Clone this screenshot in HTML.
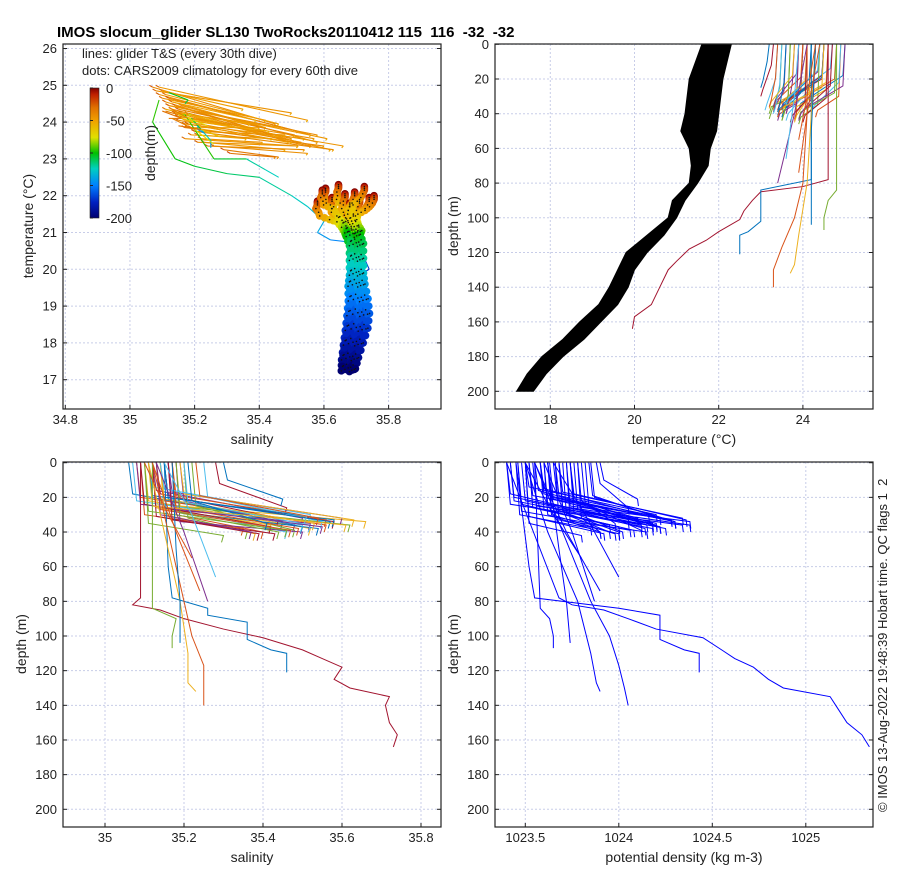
<!DOCTYPE html>
<html><head><meta charset="utf-8"><style>
html,body{margin:0;padding:0;background:#fff;}
svg{display:block;font-family:"Liberation Sans","DejaVu Sans",sans-serif;}
</style></head><body>
<svg id="fig" width="900" height="880" viewBox="0 0 900 880" xmlns="http://www.w3.org/2000/svg">
<defs>
<linearGradient id="jetgrad" x1="0" y1="0" x2="0" y2="1">
<stop offset="0" stop-color="#800000"/><stop offset="0.05" stop-color="#c02000"/><stop offset="0.15" stop-color="#e07000"/><stop offset="0.25" stop-color="#f0a000"/><stop offset="0.38" stop-color="#e0e000"/><stop offset="0.5" stop-color="#00c000"/><stop offset="0.62" stop-color="#00d0c0"/><stop offset="0.75" stop-color="#0080ff"/><stop offset="0.88" stop-color="#0020c0"/><stop offset="1" stop-color="#000070"/>
</linearGradient>
<clipPath id="cTS"><rect x="63" y="44" width="378" height="365"/></clipPath>
<clipPath id="cTR"><rect x="495" y="44" width="378" height="365"/></clipPath>
<clipPath id="cBL"><rect x="63" y="462" width="378" height="365"/></clipPath>
<clipPath id="cBR"><rect x="495" y="462" width="378" height="365"/></clipPath>
</defs>
<text x="57" y="37" font-size="15" font-weight="bold" style="white-space:pre" xml:space="preserve">IMOS slocum_glider SL130 TwoRocks20110412 115  116  -32  -32</text>
<text transform="translate(887,812) rotate(-90)" font-size="13" fill="#222" style="white-space:pre" xml:space="preserve">© IMOS 13-Aug-2022 19:48:39 Hobart time. QC flags 1  2</text>
</svg>
<script>
// ---- shallow glider dives (every 30th dive) ----
const shallowSurfSal=[35.06,35.08,35.10,35.12,35.13,35.14,35.15,35.16,35.17,35.18,35.19,35.20,35.11,35.13,35.15,35.17,35.14,35.16,35.22,35.25,35.28,35.30,35.09,35.12,35.18,35.10,
 35.07,35.09,35.11,35.13,35.14,35.16,35.18,35.20,35.12,35.15,35.17,35.19,35.08,35.10,35.14,35.16,35.21,35.23,35.11,35.13];
const shallowBotSal =[35.45,35.56,35.52,35.50,35.62,35.46,35.58,35.54,35.40,35.66,35.48,35.36,35.52,35.44,35.50,35.56,35.38,35.52,35.48,35.55,35.46,35.45,35.35,35.42,35.50,35.30,
 35.50,35.42,35.58,35.47,35.53,35.60,35.44,35.52,35.39,35.57,35.49,35.63,35.55,35.46,35.51,35.43,35.41,35.54,35.61,35.37];
const shallowSurfTemp=[25.0,24.8,24.6,24.4,24.3,24.2,24.5,24.0,23.9,24.1,23.8,23.7,24.7,24.5,24.3,24.0,24.2,23.6,23.5,23.4,23.3,23.2,24.9,24.6,23.9,24.4,
 24.9,24.7,24.5,24.3,24.1,23.9,23.7,23.5,24.6,24.2,24.0,23.8,25.0,24.8,24.4,24.1,23.6,23.4,24.5,24.3];
const shallowBotTemp =[23.9,23.6,23.4,23.5,23.2,23.6,23.4,23.5,23.8,23.3,23.6,23.5,23.7,23.6,23.4,23.3,23.8,23.3,23.2,23.1,23.0,23.0,24.3,23.8,23.4,23.9,
 24.2,24.0,23.6,23.8,23.4,23.3,23.5,23.3,24.0,23.5,23.4,23.2,24.0,23.9,23.6,23.7,23.4,23.2,23.5,23.9];
const shallowMixDepth=[18,20,22,16,24,26,20,28,30,25,22,32,14,18,21,19,30,27,25,20,12,10,30,26,34,35,
 22,24,19,27,21,17,29,23,31,20,26,18,24,28,15,33,22,19,25,30];
const shallowMaxDepth=[38,40,42,36,40,44,38,42,44,38,40,44,34,36,41,37,45,39,43,38,30,25,42,40,44,46,
 40,41,37,43,39,36,44,40,45,38,42,37,41,43,35,45,39,36,40,44];
const shallowSurfDens=[1023.40,1023.42,1023.48,1023.55,1023.60,1023.62,1023.65,1023.68,1023.70,1023.72,1023.74,1023.78,1023.50,1023.58,1023.63,1023.66,1023.62,1023.76,1023.82,1023.85,1023.88,1023.90,1023.45,1023.52,1023.72,1023.50,
 1023.42,1023.46,1023.52,1023.58,1023.62,1023.68,1023.74,1023.80,1023.50,1023.62,1023.68,1023.74,1023.40,1023.46,1023.58,1023.66,1023.78,1023.84,1023.54,1023.60];
const shallowBotDens =[1024.05,1024.20,1024.25,1024.10,1024.38,1024.00,1024.30,1024.18,1023.95,1024.38,1024.15,1023.90,1024.20,1024.05,1024.22,1024.28,1023.98,1024.18,1024.12,1024.30,1024.05,1024.10,1023.85,1023.95,1024.15,1023.80,
 1024.12,1024.00,1024.28,1024.08,1024.20,1024.34,1024.02,1024.18,1023.92,1024.30,1024.14,1024.36,1024.22,1024.06,1024.16,1024.00,1023.98,1024.22,1024.34,1023.90];
// ---- deeper glider dives ----
const deepDepth=[
 [0,78,82,85,90,96,101,108,113,118,125,130,135,140,150,157,164],
 [0,60,78,84,88,92,102,108,110,121],
 [0,40,80,100,117,130,140],
 [0,40,80,110,127,132],
 [0,84,90,100,107],
 [0,50,80,104],
 [0,30,55],
 [0,40,80],
 [0,30,66],
 [0,40,74]];
const deepSal=[
 [35.09,35.09,35.07,35.14,35.20,35.30,35.40,35.50,35.55,35.60,35.58,35.62,35.72,35.71,35.72,35.74,35.73],
 [35.15,35.16,35.17,35.26,35.26,35.36,35.36,35.42,35.46,35.46],
 [35.12,35.16,35.20,35.22,35.25,35.25,35.25],
 [35.11,35.15,35.19,35.21,35.21,35.23],
 [35.12,35.12,35.18,35.17,35.17],
 [35.17,35.18,35.19,35.19],
 [35.10,35.16,35.22],
 [35.13,35.20,35.26],
 [35.15,35.22,35.28],
 [35.12,35.18,35.24]];
const deepTemp=[
 [24.6,24.6,24.0,23.0,22.8,22.6,22.5,22.0,21.7,21.3,21.0,20.8,20.7,20.6,20.4,20.0,19.95],
 [24.2,24.2,24.2,23.0,23.0,23.0,23.0,22.7,22.5,22.5],
 [24.1,24.1,24.0,23.8,23.5,23.3,23.3],
 [24.3,24.2,24.1,23.9,23.8,23.7],
 [24.8,24.8,24.6,24.5,24.5],
 [24.3,24.2,24.2,24.2],
 [24.3,24.1,23.9],
 [24.1,23.8,23.4],
 [23.9,23.8,23.6],
 [24.4,24.1,23.9]];
const deepDens=[
 [1023.40,1023.68,1023.75,1023.92,1024.05,1024.20,1024.45,1024.55,1024.62,1024.72,1024.80,1024.88,1025.13,1025.16,1025.22,1025.30,1025.34],
 [1023.45,1023.52,1023.55,1024.00,1024.22,1024.22,1024.22,1024.35,1024.43,1024.43],
 [1023.55,1023.70,1023.85,1023.95,1024.00,1024.03,1024.05],
 [1023.50,1023.62,1023.78,1023.85,1023.88,1023.90],
 [1023.55,1023.58,1023.63,1023.65,1023.65],
 [1023.62,1023.68,1023.72,1023.74],
 [1023.50,1023.65,1023.80],
 [1023.60,1023.75,1023.87],
 [1023.65,1023.82,1024.00],
 [1023.55,1023.72,1023.90]];
const deepColorIdx=[6,0,1,2,4,0,1,3,5,1];
// ---- CARS2009 climatology ----
const climDepth=[0,10,20,30,40,50,60,70,80,90,100,110,120,130,140,150,160,170,180,190,200];
const climTemp=[22.0,21.95,21.9,21.8,21.7,21.6,21.5,21.35,21.2,21.05,20.95,20.7,20.3,19.9,19.6,19.2,18.8,18.4,18.0,17.6,17.3];
const climSal=[35.665,35.665,35.665,35.66,35.66,35.655,35.66,35.67,35.68,35.69,35.69,35.70,35.70,35.70,35.70,35.705,35.705,35.70,35.69,35.68,35.675];
const climSalSpread=[1,1,1,1,0.9,0.8,0.5,0.35,0.3,0.3,0.25,0.25,0.25,0.25,0.3,0.35,0.4,0.4,0.35,0.3,0.25];
const climDiveSalOffset=[-0.085,-0.06,-0.04,-0.02,0.0,0.015,0.03,0.045,0.06,0.075,0.09,-0.07];
const climDiveTempOffset=[-0.15,0.2,-0.05,0.3,0.05,-0.2,0.1,-0.1,0.25,-0.05,0.0,0.15];
const climBandDepth=[0,20,40,50,60,70,80,90,100,110,120,130,140,150,160,170,180,190,200];
const climBandMin=[21.6,21.3,21.2,21.1,21.3,21.35,21.3,20.9,20.8,20.3,19.8,19.6,19.4,19.15,18.7,18.3,17.8,17.45,17.2];
const climBandMax=[22.3,22.1,22.0,21.95,21.8,21.75,21.5,21.2,21.0,20.7,20.3,20.0,19.85,19.6,19.2,18.8,18.3,17.9,17.6];
// ---- ticks ----
const tsXTicks=[34.8,35,35.2,35.4,35.6,35.8];
const tsYTicks=[17,18,19,20,21,22,23,24,25,26];
const trXTicks=[18,20,22,24];
const depthTicks=[0,20,40,60,80,100,120,140,160,180,200];
const blXTicks=[35,35.2,35.4,35.6,35.8];
const brXTicks=[1023.5,1024,1024.5,1025];
const cbTicks=[0,-50,-100,-150,-200];

const NS='http://www.w3.org/2000/svg';
const svg=document.getElementById('fig');
function mk(tag,attrs,parent){const e=document.createElementNS(NS,tag);for(const k in attrs)e.setAttribute(k,attrs[k]);(parent||svg).appendChild(e);return e;}
const palette=['#0072BD','#D95319','#EDB120','#7E2F8E','#77AC30','#4DBEEE','#A2142F'];
const cmStops=[[0,[128,0,0]],[0.05,[192,32,0]],[0.15,[224,112,0]],[0.25,[240,160,0]],[0.38,[224,224,0]],[0.5,[0,192,0]],[0.62,[0,208,192]],[0.75,[0,128,255]],[0.88,[0,32,192]],[1,[0,0,112]]];
function depthColor(d){const t=Math.min(1,Math.max(0,d/200));
  for(let i=0;i<cmStops.length-1;i++){const a=cmStops[i],b=cmStops[i+1];
    if(t<=b[0]){const f=(t-a[0])/(b[0]-a[0]);return 'rgb('+a[1].map((v,k)=>Math.round(v+(b[1][k]-v)*f)).join(',')+')';}}
  return 'rgb(0,0,112)';}

// scales
const tsX=v=>65.3+(v-34.8)*323.3, tsY=v=>48.5+(26-v)*36.8;
const trX=v=>550.3+(v-18)*42.1, trY=d=>44.3+d*1.735;
const blX=v=>105+(v-35)*395, blY=d=>462.7+d*1.733;
const brX=v=>525.3+(v-1023.5)*187, brY=blY;

function axes(name,x0,y0,xTicks,xf,yTicks,yf,xfmt,yfmt,xlabel,ylabel,ylx){
  const g=mk('g',{});
  
  
  mk('rect',{x:x0,y:y0,width:378,height:365,fill:'#fff'},g);
  xTicks.forEach(v=>{const x=xf(v);
    mk('line',{x1:x,x2:x,y1:y0,y2:y0+365,stroke:'#c8cde8','stroke-width':1,'stroke-dasharray':'2,2'},g);
    const t=mk('text',{x:x,y:y0+380,'font-size':13,'text-anchor':'middle',fill:'#222'},g);t.textContent=xfmt(v);
    
    
    mk('line',{x1:x,x2:x,y1:y0+365,y2:y0+361,stroke:'#222'},g);
  });
  yTicks.forEach(v=>{const y=yf(v);
    mk('line',{x1:x0,x2:x0+378,y1:y,y2:y,stroke:'#c8cde8','stroke-width':1,'stroke-dasharray':'2,2'},g);
    const t=mk('text',{x:x0-6,y:y+4.5,'font-size':13,'text-anchor':'end',fill:'#222'},g);t.textContent=yfmt(v);
    
    
    mk('line',{x1:x0,x2:x0+4,y1:y,y2:y,stroke:'#222'},g);
    mk('line',{x1:x0+378,x2:x0+374,y1:y,y2:y,stroke:'#222'},g);
  });
  const xl=mk('text',{x:x0+189,y:y0+400,'font-size':14,'text-anchor':'middle',fill:'#222'},g);xl.textContent=xlabel;
  
  
  const yl=mk('text',{transform:'translate('+ylx+','+(y0+182)+') rotate(-90)','font-size':14,'text-anchor':'middle',fill:'#222'},g);yl.textContent=ylabel;
  
  
  return g;
}
function frame(x0,y0){const r=mk('rect',{x:x0,y:y0,width:378,height:365,fill:'none',stroke:'#222','stroke-width':1.2});
  
  }

const f1=v=>(Math.round(v*10)/10).toString();
axes('ts-panel',63,44,tsXTicks,tsX,tsYTicks,tsY,f1,String,'salinity','temperature (°C)',33);
axes('temp-depth-panel',495,44,trXTicks,trX,depthTicks,trY,String,String,'temperature (°C)','depth (m)',458);
axes('sal-depth-panel',63,462,blXTicks,blX,depthTicks,blY,f1,String,'salinity','depth (m)',26);
axes('dens-depth-panel',495,462,brXTicks,brX,depthTicks,brY,String,String,'potential density (kg m-3)','depth (m)',458);

// build all profiles as unified lists
const profD=[],profS=[],profT=[],profR=[],profC=[];
for(let i=0;i<shallowSurfSal.length;i++){
  const m=shallowMixDepth[i],z=shallowMaxDepth[i];
  profD.push([0,m,z-4,z]);
  profS.push([shallowSurfSal[i],shallowSurfSal[i]+0.01,shallowBotSal[i],shallowBotSal[i]-0.005]);
  profT.push([shallowSurfTemp[i],shallowSurfTemp[i]-0.05,shallowBotTemp[i]+0.05,shallowBotTemp[i]]);
  profR.push([shallowSurfDens[i],shallowSurfDens[i]+0.02,shallowBotDens[i],shallowBotDens[i]+0.005]);
  profC.push(palette[i%palette.length]);
}
for(let i=0;i<deepDepth.length;i++){profD.push(deepDepth[i]);profS.push(deepSal[i]);profT.push(deepTemp[i]);profR.push(deepDens[i]);profC.push(palette[deepColorIdx[i]]);}

// ---- top-right: climatology band ----
const gTR=mk('g',{'clip-path':'url(#cTR)'});


let bp=climBandDepth.map((d,i)=>trX(climBandMin[i])+','+trY(d));
for(let i=climBandDepth.length-1;i>=0;i--)bp.push(trX(climBandMax[i])+','+trY(climBandDepth[i]));
const band=mk('polygon',{points:bp.join(' '),fill:'#000',stroke:'#000','stroke-width':1},gTR);



const gBL=mk('g',{'clip-path':'url(#cBL)'});


const gBR=mk('g',{'clip-path':'url(#cBR)'});


const gTS=mk('g',{'clip-path':'url(#cTS)'});



function poly(g,xs,ys,color,w){return mk('polyline',{points:xs.map((x,i)=>x+','+ys[i]).join(' '),fill:'none',stroke:color,'stroke-width':w||1},g);}

for(let p=0;p<profD.length;p++){
  const l1=poly(gTR,profT[p].map(trX),profD[p].map(trY),profC[p],1);
  
  
  const l2=poly(gBL,profS[p].map(blX),profD[p].map(blY),profC[p],1);
  
  
  const l3=poly(gBR,profR[p].map(brX),profD[p].map(brY),'#0000ff',1);
  
  
  for(let i=0;i<profD[p].length-1;i++){
    const seg=mk('line',{x1:tsX(profS[p][i]),y1:tsY(profT[p][i]),x2:tsX(profS[p][i+1]),y2:tsY(profT[p][i+1]),stroke:depthColor((profD[p][i]+profD[p][i+1])/2+15),'stroke-width':1.1},gTS);
    
    
  }
}

// TS climatology dots
for(let k=0;k<climDiveSalOffset.length;k++){
  for(let i=0;i<climDepth.length;i++){
    const to=climDiveTempOffset[k]*(i<7?1:0.4);
    const s=climSal[i]+climDiveSalOffset[k]*climSalSpread[i], t=climTemp[i]+to;
    const c=mk('circle',{cx:tsX(s),cy:tsY(t),r:3.8,fill:depthColor(climDepth[i])},gTS);
    
    
    if(i<climDepth.length-1){
      const to2=climDiveTempOffset[k]*(i+1<7?1:0.4);
      const s2=climSal[i+1]+climDiveSalOffset[k]*climSalSpread[i+1], t2=climTemp[i+1]+to2;
      const c2=mk('circle',{cx:tsX((s+s2)/2),cy:tsY((t+t2)/2),r:3.8,fill:depthColor((climDepth[i]+climDepth[i+1])/2)},gTS);
      
      
    }
  }
}
for(let k=0;k<climDiveSalOffset.length;k++){
  for(let i=0;i<climDepth.length;i++){
    const s=climSal[i]+climDiveSalOffset[k]*climSalSpread[i], t=climTemp[i]+climDiveTempOffset[k]*(i<7?1:0.4);
    const c=mk('circle',{cx:tsX(s),cy:tsY(t),r:0.8,fill:'#111'},gTS);
    
    
  }
}
frame(63,44);frame(495,44);frame(63,462);frame(495,462);

// legend text & colorbar
const lt1=mk('text',{x:82,y:58,'font-size':13,fill:'#222'});lt1.textContent='lines: glider T&S (every 30th dive)';


const lt2=mk('text',{x:82,y:75,'font-size':13,fill:'#222'});lt2.textContent='dots: CARS2009 climatology for every 60th dive';


const cb=mk('rect',{x:90,y:88,width:9,height:130,fill:'url(#jetgrad)',stroke:'#222','stroke-width':0.6});


cbTicks.forEach(v=>{const y=88+(-v)/200*130;
  mk('line',{x1:90,x2:93,y1:y,y2:y,stroke:'#222'});
  const t=mk('text',{x:106,y:y+5,'font-size':13,fill:'#222'});t.textContent=String(v);
  
  });
const cbl=mk('text',{transform:'translate(155,153) rotate(-90)','font-size':14,'text-anchor':'middle',fill:'#222'});cbl.textContent='depth(m)';


</script>
</body></html>
